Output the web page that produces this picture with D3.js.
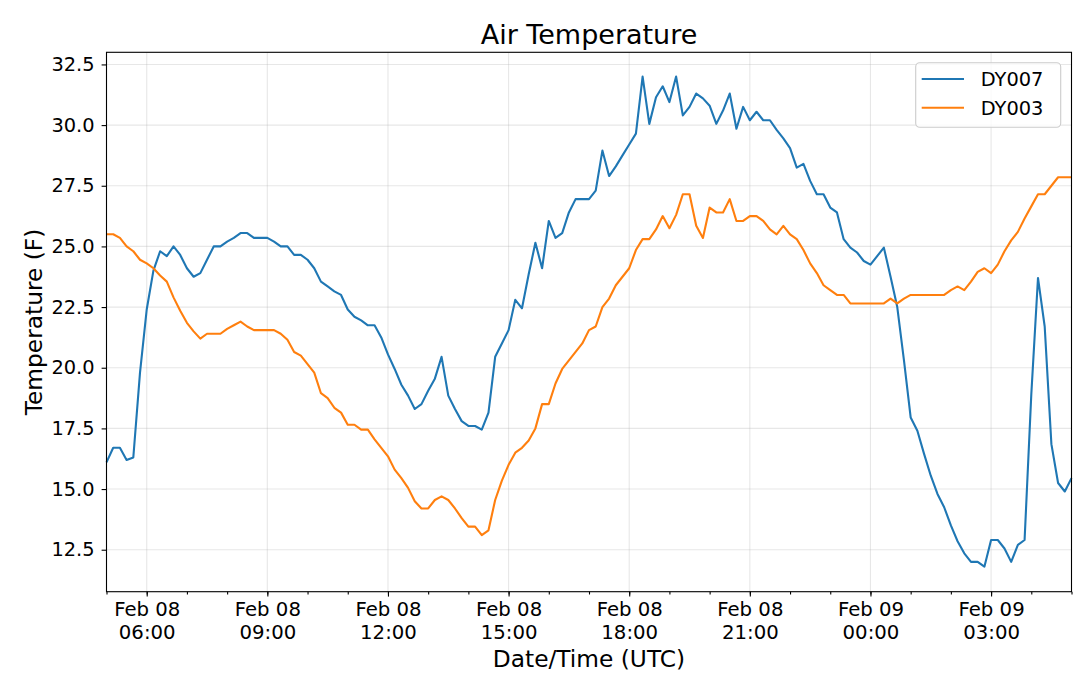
<!DOCTYPE html>
<html>
<head>
<meta charset="utf-8">
<title>Air Temperature</title>
<script src="https://cdn.jsdelivr.net/npm/d3@7"></script>
<style>
  body { margin: 0; background: #fff; }
  svg { font-family: "DejaVu Sans", sans-serif; }
  .axis path, .axis line { stroke: #000; stroke-width: 1.1; }
  .axis text { fill: #000; }
  .grid line { stroke: #b0b0b0; stroke-opacity: 0.3; stroke-width: 1.1; }
</style>
</head>
<body>
<svg id="chart"></svg>
<script>

// series are 10-minute readings starting Feb 08 05:00 UTC
const startTime = new Date(Date.UTC(2020, 1, 8, 5, 0));
const stepMinutes = 10;

const seriesNames = ['DY007', 'DY003'];
const seriesColors = ['#1f77b4', '#ff7f0e'];

const dy007 = [
  16.1, 16.7, 16.7, 16.2, 16.3, 19.8, 22.4, 24.0, 24.8, 24.6,
  25.0, 24.65, 24.1, 23.75, 23.9, 24.45, 25.0, 25.0, 25.2, 25.35,
  25.55, 25.55, 25.35, 25.35, 25.35, 25.2, 25.0, 25.0, 24.65, 24.65,
  24.45, 24.1, 23.55, 23.35, 23.15, 23.0, 22.4, 22.1, 21.95, 21.75,
  21.75, 21.25, 20.55, 19.95, 19.3, 18.85, 18.3, 18.5, 19.05, 19.55,
  20.45, 18.85, 18.3, 17.8, 17.6, 17.6, 17.45, 18.15, 20.45, 21.0,
  21.55, 22.8, 22.45, 23.85, 25.15, 24.1, 26.05, 25.35, 25.55, 26.4,
  26.95, 26.95, 26.95, 27.3, 28.95, 27.9, 28.3, 28.75, 29.2, 29.65,
  32.0, 30.05, 31.15, 31.6, 30.95, 32.0, 30.4, 30.75, 31.3, 31.1,
  30.8, 30.05, 30.6, 31.3, 29.85, 30.75, 30.2, 30.55, 30.2, 30.2,
  29.8, 29.45, 29.05, 28.25, 28.4, 27.7, 27.15, 27.15, 26.6, 26.4,
  25.3, 24.95, 24.75, 24.4, 24.25, 24.6, 24.95, 23.75, 22.5, 20.3,
  17.95, 17.4, 16.45, 15.55, 14.8, 14.25, 13.5, 12.85, 12.35, 12.0,
  12.0, 11.8, 12.9, 12.9, 12.55, 12.0, 12.7, 12.9, 18.9, 23.7,
  21.7, 16.85, 15.25, 14.9, 15.45
];

const dy003 = [
  25.5, 25.5, 25.35, 25.0, 24.8, 24.45, 24.3, 24.1, 23.8, 23.55,
  22.9, 22.35, 21.85, 21.5, 21.2, 21.4, 21.4, 21.4, 21.6, 21.75,
  21.9, 21.7, 21.55, 21.55, 21.55, 21.55, 21.4, 21.15, 20.65, 20.5,
  20.15, 19.8, 18.95, 18.75, 18.35, 18.15, 17.65, 17.65, 17.45, 17.45,
  17.05, 16.7, 16.35, 15.8, 15.45, 15.05, 14.5, 14.2, 14.2, 14.55,
  14.7, 14.55, 14.2, 13.8, 13.45, 13.45, 13.1, 13.3, 14.55, 15.35,
  16.0, 16.5, 16.7, 17.0, 17.5, 18.5, 18.5, 19.35, 19.95, 20.3,
  20.65, 21.0, 21.55, 21.7, 22.5, 22.85, 23.4, 23.75, 24.1, 24.85,
  25.3, 25.3, 25.7, 26.25, 25.75, 26.3, 27.15, 27.15, 25.85, 25.35,
  26.6, 26.4, 26.4, 26.95, 26.05, 26.05, 26.25, 26.25, 26.05, 25.7,
  25.5, 25.85, 25.5, 25.3, 24.85, 24.3, 23.9, 23.4, 23.2, 23.0,
  23.0, 22.65, 22.65, 22.65, 22.65, 22.65, 22.65, 22.85, 22.65, 22.85,
  23.0, 23.0, 23.0, 23.0, 23.0, 23.0, 23.2, 23.35, 23.2, 23.55,
  23.95, 24.1, 23.9, 24.25, 24.8, 25.25, 25.6, 26.15, 26.65, 27.15,
  27.15, 27.5, 27.85, 27.85, 27.85
];

const yTicks = [12.5, 15.0, 17.5, 20.0, 22.5, 25.0, 27.5, 30.0, 32.5];
const yDomain = [10.77, 33.0];


class TemperatureLineChart {

  constructor(_config) {
    this.config = {
      parentElement: _config.parentElement,
      containerWidth: _config.containerWidth || 1080,
      containerHeight: _config.containerHeight || 685,
      margin: _config.margin || {top: 52.3, right: 8.5, bottom: 93.3, left: 106.5}
    }
    this.initVis();
  }

  initVis() {
    let vis = this;

    vis.width = vis.config.containerWidth - vis.config.margin.left - vis.config.margin.right;
    vis.height = vis.config.containerHeight - vis.config.margin.top - vis.config.margin.bottom;

    vis.svg = d3.select(vis.config.parentElement)
      .attr('width', vis.config.containerWidth)
      .attr('height', vis.config.containerHeight);

    vis.chart = vis.svg.append('g')
      .attr('transform', `translate(${vis.config.margin.left},${vis.config.margin.top})`);

    vis.xScale = d3.scaleUtc().range([0, vis.width]);
    vis.yScale = d3.scaleLinear().range([vis.height, 0]);

    vis.gridG = vis.chart.append('g').attr('class', 'grid');
    vis.linesG = vis.chart.append('g').attr('class', 'lines');

    vis.xAxisG = vis.chart.append('g')
      .attr('class', 'axis x-axis')
      .attr('transform', `translate(0,${vis.height})`);
    vis.xMinorG = vis.chart.append('g')
      .attr('class', 'axis x-minor')
      .attr('transform', `translate(0,${vis.height})`);
    vis.yAxisG = vis.chart.append('g')
      .attr('class', 'axis y-axis');

    // title and axis labels
    vis.svg.append('text')
      .attr('x', vis.config.margin.left + vis.width / 2)
      .attr('y', 44)
      .attr('text-anchor', 'middle')
      .attr('font-size', '27px')
      .text('Air Temperature');

    vis.svg.append('text')
      .attr('x', vis.config.margin.left + vis.width / 2)
      .attr('y', 667)
      .attr('text-anchor', 'middle')
      .attr('font-size', '23.3px')
      .text('Date/Time (UTC)');

    vis.svg.append('text')
      .attr('transform', `translate(42,${vis.config.margin.top + vis.height / 2}) rotate(-90)`)
      .attr('text-anchor', 'middle')
      .attr('font-size', '23.3px')
      .text('Temperature (F)');

    vis.updateVis();
  }

  updateVis() {
    let vis = this;

    vis.times = dy007.map((d, i) => d3.utcMinute.offset(startTime, i * stepMinutes));
    vis.series = [dy007, dy003].map((values, k) => ({
      name: seriesNames[k],
      color: seriesColors[k],
      values: values.map((v, i) => ({time: vis.times[i], value: v}))
    }));

    vis.xScale.domain([startTime, vis.times[vis.times.length - 1]]);
    vis.yScale.domain(yDomain);

    vis.majorTicks = d3.utcHour.every(3).range(vis.xScale.domain()[0], vis.xScale.domain()[1]);
    vis.minorTicks = d3.utcHour.every(1).range(vis.xScale.domain()[0], d3.utcMinute.offset(vis.xScale.domain()[1], 1));

    vis.line = d3.line()
      .x(d => vis.xScale(d.time))
      .y(d => vis.yScale(d.value));

    vis.renderVis();
  }

  renderVis() {
    let vis = this;

    // grid
    vis.gridG.selectAll('.vgrid')
        .data(vis.majorTicks)
      .join('line')
        .attr('class', 'vgrid')
        .attr('x1', d => vis.xScale(d))
        .attr('x2', d => vis.xScale(d))
        .attr('y1', 0)
        .attr('y2', vis.height);

    vis.gridG.selectAll('.hgrid')
        .data(yTicks)
      .join('line')
        .attr('class', 'hgrid')
        .attr('x1', 0)
        .attr('x2', vis.width)
        .attr('y1', d => vis.yScale(d))
        .attr('y2', d => vis.yScale(d));

    vis.linesG.selectAll('.series')
        .data(vis.series)
      .join('path')
        .attr('class', 'series')
        .attr('fill', 'none')
        .attr('stroke', d => d.color)
        .attr('stroke-width', 2.1)
        .attr('stroke-linejoin', 'round')
        .attr('d', d => vis.line(d.values));

    // frame
    vis.chart.append('rect')
      .attr('width', vis.width)
      .attr('height', vis.height)
      .attr('fill', 'none')
      .attr('stroke', '#000')
      .attr('stroke-width', 1.1);

    vis.xAxis = d3.axisBottom(vis.xScale)
      .tickValues(vis.majorTicks)
      .tickSize(4.9)
      .tickPadding(5)
      .tickFormat(d3.utcFormat('%b %d'));

    vis.xMinor = d3.axisBottom(vis.xScale)
      .tickValues(vis.minorTicks)
      .tickSize(2.8)
      .tickFormat('');

    vis.yAxis = d3.axisLeft(vis.yScale)
      .tickValues(yTicks)
      .tickSize(4.9)
      .tickPadding(7)
      .tickFormat(d3.format('.1f'));

    vis.xAxisG.call(vis.xAxis);
    vis.xMinorG.call(vis.xMinor);
    vis.yAxisG.call(vis.yAxis);

    vis.chart.selectAll('.axis .domain').remove();
    vis.yAxisG.selectAll('text').attr('font-size', '19.4px').attr('font-family', 'DejaVu Sans');

    // two-line date labels
    vis.xAxisG.selectAll('.tick text')
      .attr('font-size', '19.7px')
      .attr('font-family', 'DejaVu Sans')
      .attr('dy', null)
      .attr('y', 0)
      .each(function(d) {
        const t = d3.select(this).text('');
        t.append('tspan').attr('x', 0).attr('y', 24).text(d3.utcFormat('%b %d')(d));
        t.append('tspan').attr('x', 0).attr('y', 47.3).text(d3.utcFormat('%H:%M')(d));
      });

    // legend
    const legend = vis.svg.append('g').attr('class', 'legend');
    legend.append('rect')
      .attr('x', 915.7)
      .attr('y', 62.7)
      .attr('width', 145)
      .attr('height', 64.6)
      .attr('rx', 4)
      .attr('fill', '#fff')
      .attr('fill-opacity', 0.8)
      .attr('stroke', '#cccccc')
      .attr('stroke-width', 1.1);

    const items = legend.selectAll('.item')
        .data(vis.series)
      .join('g')
        .attr('class', 'item')
        .attr('transform', (d, i) => `translate(921.7,${79 + i * 28.7})`);

    items.append('line')
      .attr('x1', 0)
      .attr('x2', 42.3)
      .attr('stroke', d => d.color)
      .attr('stroke-width', 2.1);

    items.append('text')
      .attr('x', 59)
      .attr('dy', '0.36em')
      .attr('font-size', '19.4px')
      .text(d => d.name);
  }
}

new TemperatureLineChart({parentElement: '#chart'});
</script>
</body>
</html>
